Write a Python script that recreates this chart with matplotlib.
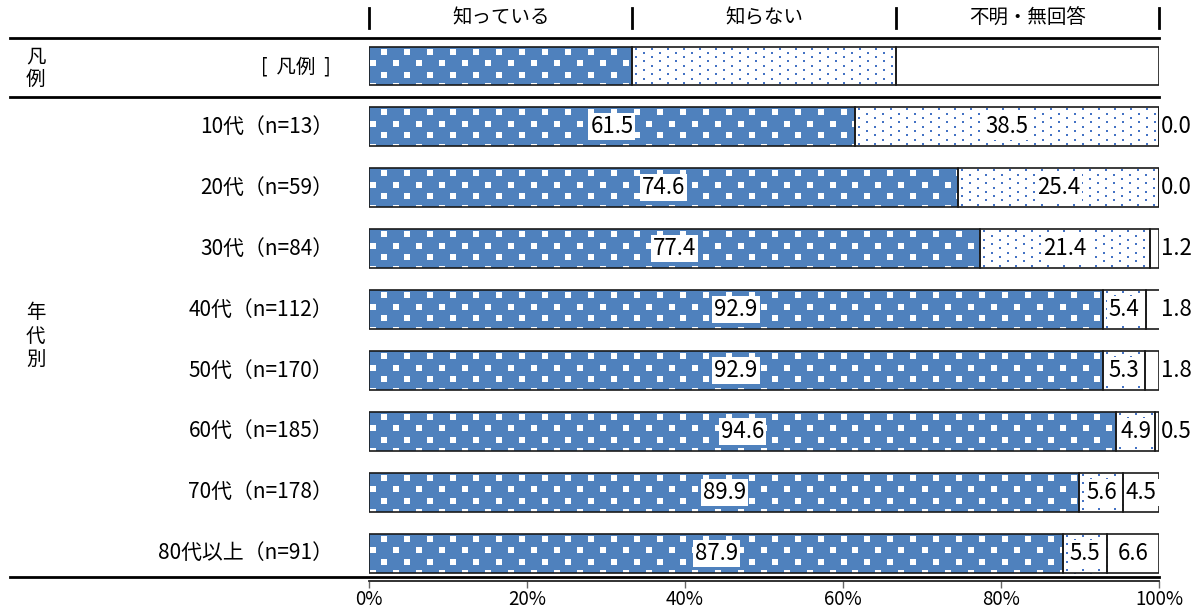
import numpy as np
import matplotlib
matplotlib.use("Agg")
import matplotlib.pyplot as plt
from matplotlib.lines import Line2D

plt.rcParams['font.family'] = ['Noto Sans CJK JP', 'DejaVu Sans']

# ---- data ----
headers = ["知っている", "知らない", "不明・無回答"]
groups = ["10代（n=13）", "20代（n=59）", "30代（n=84）", "40代（n=112）",
          "50代（n=170）", "60代（n=185）", "70代（n=178）", "80代以上（n=91）"]
know = [61.5, 74.6, 77.4, 92.9, 92.9, 94.6, 89.9, 87.9]
dont_know = [38.5, 25.4, 21.4, 5.4, 5.3, 4.9, 5.6, 5.5]
no_answer = [0.0, 0.0, 1.2, 1.8, 1.8, 0.5, 4.5, 6.6]
legend_parts = [100 / 3, 100 / 3, 100 / 3]
xticks = [0, 20, 40, 60, 80, 100]

# ---- layout (figure pixels) ----
W, H = 1200, 612
X0, X1 = 369, 1159          # 0% and 100%
Y_TOP, Y_BOT = 38, 581      # axes top / bottom
ROW0, PITCH = 66, 60.9      # centre of legend row, row spacing
BAR_H = 0.64

fig = plt.figure(figsize=(W / 100, H / 100), dpi=100)
ax = fig.add_axes([X0 / W, 1 - Y_BOT / H, (X1 - X0) / W, (Y_BOT - Y_TOP) / H])
ax.set_xlim(0, 100)
ax.set_ylim(8 + (Y_BOT - (ROW0 + 8 * PITCH)) / PITCH, -(ROW0 - Y_TOP) / PITCH)

px_x = 100 / (X1 - X0)      # data units per pixel, x
px_y = 1 / PITCH            # data units per pixel, y

BLUE = "#4F81BD"
DOT = "#4472C4"


def dot_grid(left, width, yc, step_x, step_y, first_y, x_a, x_b):
    """Staggered dot positions covering one bar segment."""
    top = yc - BAR_H / 2
    bottom = yc + BAR_H / 2
    xs, ys = [], []
    k = 0
    y = top + first_y * px_y
    while y < bottom + 3 * px_y:
        start = x_a if k % 2 == 0 else x_b
        x = left + start * px_x
        while x < left + width + 3 * px_x:
            xs.append(x)
            ys.append(y)
            x += step_x * px_x
        y += step_y * px_y
        k += 1
    return np.array(xs), np.array(ys)


def segment(left, width, yc, style):
    face = BLUE if style == "blue" else "white"
    base = ax.barh(yc, width, left=left, height=BAR_H, color=face,
                   edgecolor="none", linewidth=0, zorder=1)[0]
    if width > 0 and style == "blue":
        xs, ys = dot_grid(left, width, yc, 23, 11.5, 5, 15, 3.5)
        sc = ax.scatter(xs, ys, marker="s", s=16, c="white", linewidths=0, zorder=1.5)
        sc.set_clip_path(base)
    elif width > 0 and style == "dots":
        xs, ys = dot_grid(left, width, yc, 16, 4.3, 2, 4, 12)
        sc = ax.scatter(xs, ys, marker="s", s=2.4, c=DOT, linewidths=0, zorder=1.5)
        sc.set_clip_path(base)
    ax.barh(yc, width, left=left, height=BAR_H, fill=False,
            edgecolor="#1a1a1a", linewidth=1.2, zorder=2)


styles = ["blue", "dots", "plain"]

# legend row
lft = 0
for part, st in zip(legend_parts, styles):
    segment(lft, part, 0, st)
    lft += part

# data rows
for i in range(len(groups)):
    yc = i + 1
    vals = [know[i], dont_know[i], no_answer[i]]
    lft = 0
    for j, (v, st) in enumerate(zip(vals, styles)):
        segment(lft, v, yc, st)
        if j == 2 and v < 3:
            ax.text(100.25, yc, f"{v:.1f}", ha="left", va="center",
                    fontsize=16, color="black", zorder=3)
        else:
            ax.text(lft + v / 2, yc, f"{v:.1f}", ha="center", va="center",
                    fontsize=16, color="black", zorder=3,
                    bbox=dict(facecolor="white", edgecolor="none", pad=1.4))
        lft += v

# axes styling
for s in ["top", "left", "right"]:
    ax.spines[s].set_visible(False)
ax.spines["bottom"].set_color("#222222")
ax.spines["bottom"].set_linewidth(1.3)
ax.set_yticks([])
ax.set_xticks(xticks)
ax.set_xticklabels([f"{t}%" for t in xticks], fontsize=13.5)
ax.tick_params(axis="x", direction="out", length=5, width=1.0, color="#666666", pad=1)


def fx(px):
    return px / W


def fy(py):
    return 1 - py / H


# horizontal rules
for py in (38, 97, 577):
    fig.add_artist(Line2D([fx(10), fx(X1)], [fy(py), fy(py)], color="black",
                          linewidth=2.0))

# header separators and labels
seps = [X0 + (X1 - X0) * f for f in (0, 1 / 3, 2 / 3, 1)]
for sx in seps:
    fig.add_artist(Line2D([fx(sx), fx(sx)], [fy(8), fy(28)], color="black",
                          linewidth=2.0))
for k, h in enumerate(headers):
    cx = (seps[k] + seps[k + 1]) / 2
    fig.text(fx(cx), fy(18), h, ha="center", va="center", fontsize=14)

# left side labels
fig.text(fx(26), fy(68), "凡\n例", ha="left", va="center", fontsize=14,
         linespacing=1.1)
fig.text(fx(331), fy(67), "[  凡例  ]", ha="right", va="center", fontsize=14)
fig.text(fx(26), fy(336), "年\n代\n別", ha="left", va="center", fontsize=14,
         linespacing=1.15)
for i, g in enumerate(groups):
    fig.text(fx(333), fy(ROW0 + (i + 1) * PITCH), g, ha="right", va="center",
             fontsize=15)

fig.savefig("out.png", dpi=100)
